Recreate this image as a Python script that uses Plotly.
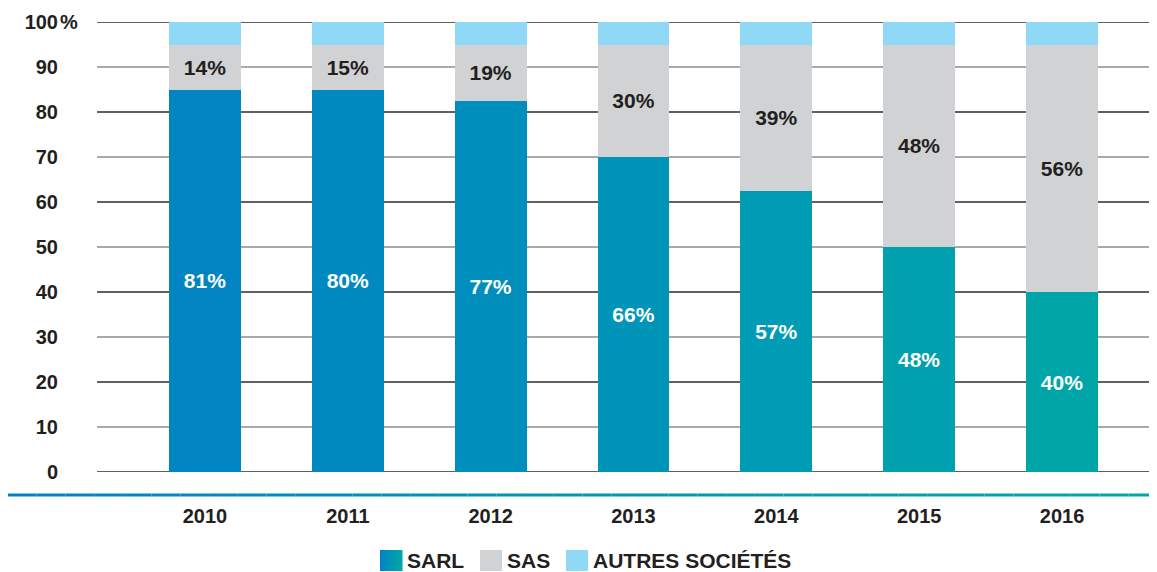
import plotly.graph_objects as go

# ---- data ----
years = ["2010", "2011", "2012", "2013", "2014", "2015", "2016"]
sarl_height = [85, 85, 82.5, 70, 62.5, 50, 40]      # drawn bar heights (as in picture)
sas_height = [10, 10, 12.5, 25, 32.5, 45, 55]
autres_height = [5, 5, 5, 5, 5, 5, 5]
sarl_labels = ["81%", "80%", "77%", "66%", "57%", "48%", "40%"]
sas_labels = ["14%", "15%", "19%", "30%", "39%", "48%", "56%"]
y_ticks = [0, 10, 20, 30, 40, 50, 60, 70, 80, 90, 100]
legend_names = ["SARL", "SAS", "AUTRES SOCIÉTÉS"]

# ---- styles ----
sarl_colors = ["#0085c2", "#0089bf", "#008fbc", "#0095b8", "#009bb4", "#00a0ae", "#00a5a8"]
sas_color = "#d1d2d4"
autres_color = "#8fd8f6"
txt = "#231f20"
FONT = "Liberation Sans, Arial, sans-serif"

OFF = 8  # page body margin
W, H = 1157 - OFF, 572 - OFF
L, R, T = 97 - OFF, 0, 22 - OFF
B = H - (472 - OFF)
pw, ph = W - L - R, H - T - B


def px_x(px):
    return (px - OFF - L) / pw


def px_y(py):
    return (T + ph - (py - OFF)) / ph


def lerp(c1, c2, t):
    a = [int(c1[i:i + 2], 16) for i in (1, 3, 5)]
    b = [int(c2[i:i + 2], 16) for i in (1, 3, 5)]
    return "#%02x%02x%02x" % tuple(round(a[k] + (b[k] - a[k]) * t) for k in range(3))


fig = go.Figure()
fig.add_bar(x=years, y=sarl_height, name=legend_names[0], marker=dict(color=sarl_colors, line=dict(width=0)),
            text=sarl_labels, textposition="inside", insidetextanchor="middle", textangle=0,
            constraintext="none",
            textfont=dict(color="white", size=21, family=FONT, weight="bold"), hoverinfo="skip")
fig.add_bar(x=years, y=sas_height, name=legend_names[1], marker=dict(color=sas_color, line=dict(width=0)),
            text=sas_labels, textposition="inside", insidetextanchor="middle", textangle=0,
            constraintext="none",
            textfont=dict(color=txt, size=21, family=FONT, weight="bold"), hoverinfo="skip")
fig.add_bar(x=years, y=autres_height, name=legend_names[2],
            marker=dict(color=autres_color, line=dict(width=0)), hoverinfo="skip")

shapes = []
# alternating gridlines (dark on even tens, grey on odd tens)
for v in y_ticks:
    col = "#2b2b2b" if (v // 10) % 2 == 0 else "#8c8c8c"
    shapes.append(dict(type="line", xref="paper", yref="y", x0=0, x1=1, y0=v, y1=v, layer="below",
                       line=dict(color=col, width=1.3)))

# gradient bottom rule
x0p, x1p = px_x(8), 1.0
yline = px_y(495)
n = 40
for i in range(n):
    xa = x0p + (x1p - x0p) * i / n
    xb = x0p + (x1p - x0p) * (i + 1) / n
    shapes.append(dict(type="line", xref="paper", yref="paper", x0=xa, x1=xb, y0=yline, y1=yline,
                       line=dict(color=lerp("#0083c4", "#00a8a6", i / (n - 1)), width=3)))

# custom legend
annotations = []
leg_sq = [380, 480, 566]
sq_w, sq_top, sq_bot = 22, 550, 571
leg_cols = [None, sas_color, autres_color]
for k, x0 in enumerate(leg_sq):
    if k == 0:
        m = 11
        for i in range(m):
            shapes.append(dict(type="rect", xref="paper", yref="paper",
                               x0=px_x(x0 + sq_w * i / m), x1=px_x(x0 + sq_w * (i + 1) / m) + 0.0005,
                               y0=px_y(sq_bot), y1=px_y(sq_top), line=dict(width=0),
                               fillcolor=lerp("#0083c4", "#00a8a6", i / (m - 1))))
    else:
        shapes.append(dict(type="rect", xref="paper", yref="paper", x0=px_x(x0), x1=px_x(x0 + sq_w),
                           y0=px_y(sq_bot), y1=px_y(sq_top), line=dict(width=0), fillcolor=leg_cols[k]))
    annotations.append(dict(text=legend_names[k], xref="paper", yref="paper", x=px_x(x0 + sq_w + 3),
                            y=px_y(560), xanchor="left", yanchor="middle", showarrow=False,
                            font=dict(size=21, family=FONT, color=txt, weight="bold")))

annotations.append(dict(text="%", xref="paper", yref="y", x=px_x(58), y=100, xanchor="left",
                        yanchor="middle", showarrow=False,
                        font=dict(size=20, family=FONT, color=txt, weight="bold")))

fig.update_layout(
    width=W, height=H, margin=dict(l=L, r=R, t=T, b=B, autoexpand=False),
    barmode="stack", bargap=0.496,
    plot_bgcolor="white", paper_bgcolor="white",
    font=dict(family=FONT, color=txt),
    shapes=shapes, annotations=annotations,
    showlegend=False,
    xaxis=dict(type="category", range=[-0.756, 6.665], showgrid=False, showline=False, zeroline=False,
               ticks="", ticklabelstandoff=30, automargin=False,
               tickfont=dict(size=20, family=FONT, color=txt, weight="bold")),
    yaxis=dict(range=[0, 100], tickvals=y_ticks, ticktext=[str(v) for v in y_ticks],
               showgrid=False, zeroline=False, showline=False, automargin=False,
               ticks="", ticklabelstandoff=38,
               tickfont=dict(size=20, family=FONT, color=txt, weight="bold")),
)

fig.write_html("out.html")
